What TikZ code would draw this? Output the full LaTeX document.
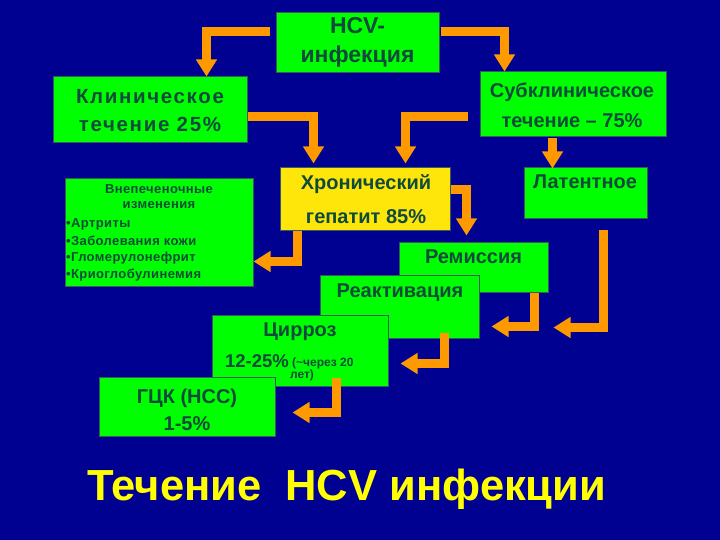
\documentclass[tikz,border=0pt]{standalone}
\usepackage{fontspec}
\setmainfont{Liberation Sans}
\newfontfamily\spacedfont[LetterSpace=3]{Liberation Sans}
\newfontfamily\widefont[LetterSpace=8]{Liberation Sans}
\usetikzlibrary{arrows.meta,calc}
\definecolor{bg}{RGB}{0,0,145}
\definecolor{gr}{RGB}{0,255,0}
\definecolor{yl}{RGB}{255,230,10}
\definecolor{org}{RGB}{255,153,0}
\definecolor{txt}{RGB}{15,75,60}
\definecolor{edgec}{RGB}{55,90,90}
\definecolor{ttl}{RGB}{255,255,0}
\begin{document}
\begin{tikzpicture}[x=1pt,y=-1pt,
  box/.style={draw=edgec,line width=1pt,fill=gr,rectangle,inner sep=0pt},
  lbl/.style={text=txt,font=\bfseries\fontsize{20}{24}\selectfont,anchor=base,inner sep=0pt},
  small/.style={text=txt,font=\spacedfont\bfseries\fontsize{13}{15}\selectfont,inner sep=0pt},
  arr/.style={draw=org,line width=9pt,line join=miter,-{Triangle[width=20pt,length=17pt]}},
]
\useasboundingbox (0,0) rectangle (720,540);
\fill[bg] (0,0) rectangle (720,540);

% boxes
\node[box,minimum width=163pt,minimum height=60pt] (hcv) at (357.5,43) {};
\node[box,minimum width=194pt,minimum height=66pt] (klin) at (150,110) {};
\node[box,minimum width=186pt,minimum height=65pt] (subklin) at (573,104.5) {};
\node[box,fill=yl,minimum width=170pt,minimum height=63pt] (chron) at (365,199.5) {};
\node[box,minimum width=123pt,minimum height=51pt] (latent) at (585.5,193.5) {};
\node[box,minimum width=188pt,minimum height=107pt] (extra) at (159,232.5) {};
\node[box,minimum width=149pt,minimum height=50pt] (remis) at (473.5,267) {};
\node[box,minimum width=159pt,minimum height=63pt] (react) at (399.5,306.5) {};
\node[box,minimum width=176pt,minimum height=71pt] (cirr) at (300,350.5) {};
\node[box,minimum width=176pt,minimum height=59pt] (hcc) at (187,406.5) {};

% texts
\node[lbl,font=\bfseries\fontsize{23}{26}\selectfont] (hcvA) at (357.5,34) {HCV-};
\node[lbl,font=\bfseries\fontsize{23}{26}\selectfont] (hcvB) at (357.5,63) {инфекция};
\node[lbl,font=\widefont\bfseries\fontsize{20.5}{26}\selectfont] (klinA) at (150,104) {Клиническое};
\node[lbl,font=\widefont\bfseries\fontsize{20.5}{26}\selectfont] (klinB) at (150,132) {течение 25\%};
\node[lbl] (subA) at (572,98) {Субклиническое};
\node[lbl] (subB) at (572,128) {течение – 75\%};
\node[lbl] (chronA) at (366,190) {Хронический};
\node[lbl] (chronB) at (366,223) {гепатит 85\%};
\node[lbl] (latentA) at (585,189) {Латентное};
\node[lbl] (remisA) at (473.5,263) {Ремиссия};
\node[lbl] (reactA) at (400,297) {Реактивация};
\node[lbl] (cirrA) at (300,336) {Цирроз};
\node[lbl,anchor=base east,font=\bfseries\fontsize{18.5}{22}\selectfont] (cirrB) at (289,367) {12-25\%};
\node[text=txt,inner sep=0pt,anchor=base west,font=\bfseries\fontsize{12}{14}\selectfont] (cirrC) at (292,366) {(\textasciitilde через 20};
\node[text=txt,inner sep=0pt,anchor=base,font=\bfseries\fontsize{12}{14}\selectfont] (cirrD) at (302,378) {лет)};
\node[lbl] (hccA) at (187,403) {ГЦК (НСС)};
\node[lbl] (hccB) at (187,430) {1-5\%};

\node[small,anchor=base] (exh1) at (159,194) {Внепеченочные};
\node[small,anchor=base] (exh2) at (159,209) {изменения};
\node[small,anchor=base west] (exl1) at (66,228) {•Артриты};
\node[small,anchor=base west] (exl2) at (66,245) {•Заболевания кожи};
\node[small,anchor=base west] (exl3) at (66,261) {•Гломерулонефрит};
\node[small,anchor=base west] (exl4) at (66,278) {•Криоглобулинемия};

% arrows
\draw[arr] ($(hcv.north west)+(-6,19)$) -| ($(klin.north west)+(154,0)$);
\draw[arr] ($(hcv.north east)+(1,19)$) -| ($(subklin.north west)+(25,0)$);
\draw[arr] ($(klin.north east)+(0,40.5)$) -| ($(chron.north west)+(34,-4)$);
\draw[arr] ($(subklin.north west)+(-12,45.5)$) -| ($(chron.north west)+(126,-4)$);
\draw[arr] ($(subklin.south west)+(73,1)$) -- ($(latent.north west)+(29,1)$);
\draw[arr] ($(chron.north east)+(0,22)$) -| ($(remis.north west)+(68,-6)$);
\draw[arr] ($(chron.south west)+(18,0)$) |- ($(extra.north east)+(0,83)$);
\draw[arr] ($(latent.south west)+(80,11)$) |- ($(remis.south east)+(5,35)$);
\draw[arr] ($(remis.south west)+(136,0)$) |- ($(react.north east)+(12,52)$);
\draw[arr] ($(react.south west)+(125,-6)$) |- ($(cirr.north east)+(12,49)$);
\draw[arr] ($(cirr.south west)+(125,-9)$) |- ($(hcc.north east)+(17,36)$);

% title
\node[anchor=base west,text=ttl,font=\bfseries\fontsize{43.5}{50}\selectfont,inner sep=0pt] (title) at (87,500) {Течение\ \ HCV инфекции};
\end{tikzpicture}
\end{document}
